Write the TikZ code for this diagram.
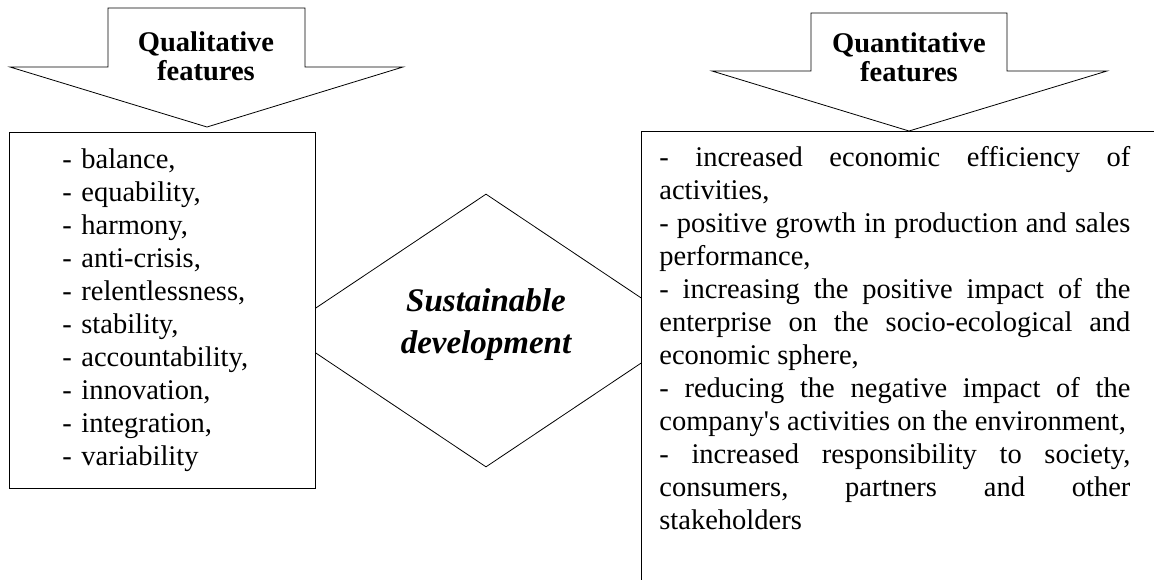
\documentclass[tikz,border=0pt]{standalone}
\usepackage{fontspec}
\setmainfont{Liberation Serif}
\usetikzlibrary{shapes.geometric, positioning}

\begin{document}
\begin{tikzpicture}[
    x=1pt, y=-1pt,
    line width=0.8pt,
    listbox/.style={draw, fill=white},
    bodytext/.style={font=\fontsize{28.5}{33}\selectfont},
    headtext/.style={font=\fontsize{28.5}{29}\selectfont\bfseries, align=center, inner sep=0pt},
    centretext/.style={font=\fontsize{33}{42}\selectfont\bfseries\itshape, align=center, inner sep=0pt},
    blockarrow/.style={draw, fill=white, line join=miter}
  ]
  \useasboundingbox (0,0) rectangle (1154,580);
  \clip (0,0) rectangle (1154,580);

  % centre
  \node[diamond, draw, minimum width=408pt, minimum height=273pt, inner sep=0pt] (sd) at (486,330.5) {};
  \node[centretext] (sdtext) at ([yshift=6pt]sd.center) {Sustainable\\development};

  % qualitative side
  \node[listbox, bodytext, anchor=north west, text width=200pt, inner xsep=53pt, inner ysep=0pt,
        minimum width=306pt, minimum height=356pt, align=left] (qual) at (9,132)
    {- balance,\\ - equability,\\ - harmony,\\ - anti-crisis,\\ - relentlessness,\\ - stability,\\
     - accountability,\\ - innovation,\\ - integration,\\ - variability};
  \draw[blockarrow] (108,8) -- (305,8) -- (305,67) -- (403,67) -- (207,127) -- (10,67) -- (108,67) -- cycle;
  \node[headtext] (qualhead) at (206,56.5) {Qualitative\\features};

  % quantitative side
  \node[listbox, anchor=north west, minimum width=540pt, minimum height=480pt] (quant) at (641,131) {};
  \node[bodytext, anchor=north west, inner sep=0pt, text width=471pt, align=justify] (quanttext)
    at ([xshift=18pt,yshift=-15pt]quant.north west)
    {\sloppy\hyphenpenalty=10000
     - increased economic efficiency of\linebreak activities,\par
     - positive growth in production and sales\linebreak performance,\par
     - increasing the positive impact of the\linebreak enterprise on the socio-ecological and\linebreak economic sphere,\par
     - reducing the negative impact of the\linebreak company\textquotesingle s activities on the environment,\par
     - increased responsibility to society,\linebreak consumers, partners and other\linebreak stakeholders};
  \draw[blockarrow] (811,13) -- (1007,13) -- (1007,71) -- (1107,71) -- (909,131) -- (712,71) -- (811,71) -- cycle;
  \node[headtext] (quanthead) at (909,57.5) {Quantitative\\features};
\end{tikzpicture}
\end{document}
